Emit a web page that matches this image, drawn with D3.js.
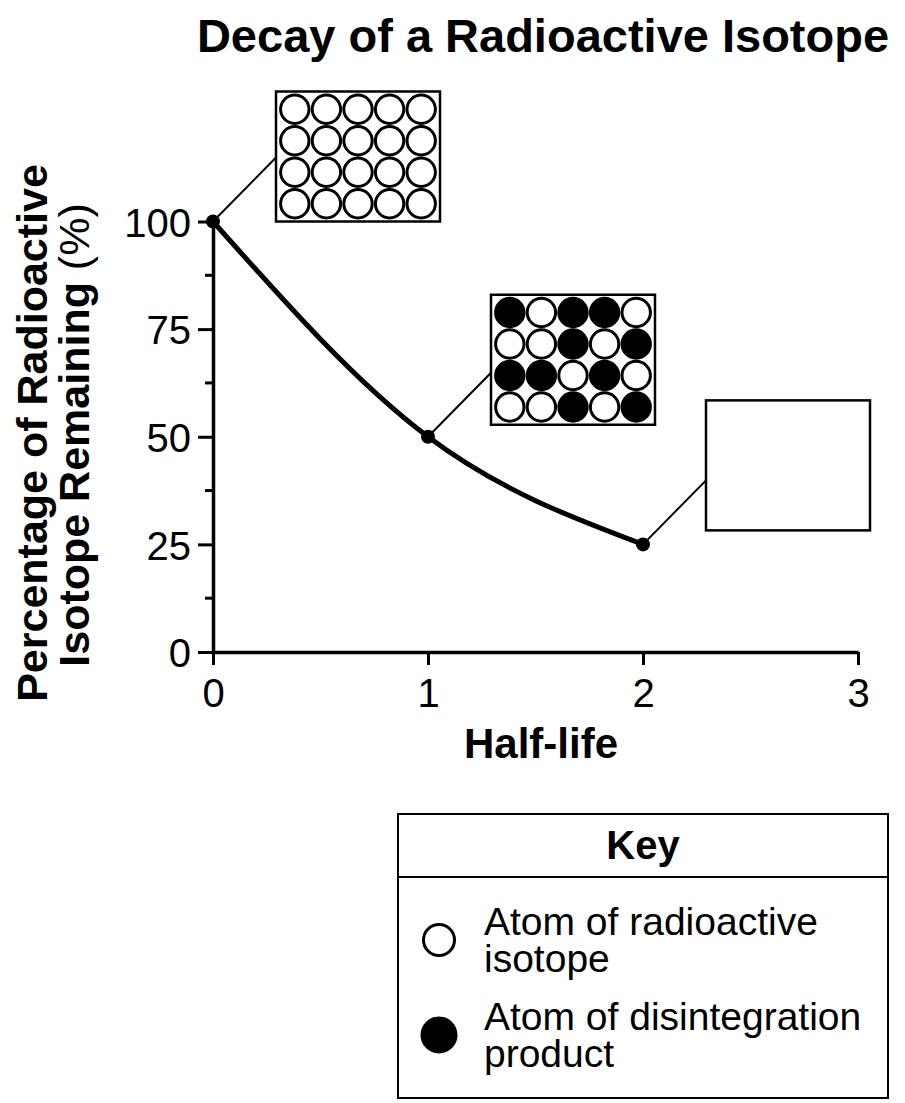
<!DOCTYPE html>
<html>
<head>
<meta charset="utf-8">
<script src="https://cdn.jsdelivr.net/npm/d3@7"></script>
<style>
  body { margin: 0; background: #fff; }
  svg { display: block; font-family: "Liberation Sans", Arial, Helvetica, sans-serif; }
</style>
</head>
<body>
<script>
// data
var halfLives = [0, 1, 2];
var percentRemaining = [100, 50, 25];
var xTickValues = [0, 1, 2, 3];
var yTickValues = [0, 25, 50, 75, 100];
var yMinorTicks = [12.5, 37.5, 62.5, 87.5];

// atom grids next to each point: O = radioactive atom, X = disintegration product
var atomGrids = [
  ["OOOOO", "OOOOO", "OOOOO", "OOOOO"],
  ["XOXXO", "OOXOX", "XXOXO", "OOXOX"],
  [] // empty box (left blank)
];

var keyLabels = [["Atom of radioactive", "isotope"], ["Atom of disintegration", "product"]];
var keyFills = ["#fff", "#000"];

var width = 905, height = 1103;

var x = d3.scaleLinear().domain([0, 3]).range([213, 858]);
var y = d3.scaleLinear().domain([0, 100]).range([652, 221.5]);

var svg = d3.select("body").append("svg")
  .attr("width", width).attr("height", height);

// title
svg.append("text")
  .attr("x", 543).attr("y", 52)
  .attr("text-anchor", "middle")
  .attr("font-size", 47).attr("font-weight", "bold")
  .text("Decay of a Radioactive Isotope");

// axes
var xAxis = d3.axisBottom(x).tickValues(xTickValues).tickFormat(d3.format("d"))
  .tickSize(13).tickSizeOuter(0).tickPadding(14);
var yAxis = d3.axisLeft(y).tickValues(yTickValues).tickFormat(d3.format("d"))
  .tickSize(15).tickSizeOuter(0).tickPadding(7);

var gx = svg.append("g").attr("transform", "translate(0," + y(0) + ")").call(xAxis);
var gy = svg.append("g").attr("transform", "translate(" + x(0) + ",0)").call(yAxis);

// minor ticks on y
gy.selectAll(".minor").data(yMinorTicks).enter().append("line")
  .attr("class", "minor")
  .attr("x1", -8).attr("x2", 0)
  .attr("y1", function(d) { return y(d); }).attr("y2", function(d) { return y(d); });

[gx, gy].forEach(function(g) {
  g.selectAll("path.domain").attr("stroke", "#000").attr("stroke-width", 3.5);
  g.selectAll("line").attr("stroke", "#000").attr("stroke-width", 3);
  g.selectAll("text").attr("font-size", 40).attr("fill", "#000")
    .attr("font-family", "'Liberation Sans', Arial, Helvetica, sans-serif");
});
gy.selectAll(".tick text").attr("dy", "0.37em");

// axis titles
svg.append("text")
  .attr("x", 541).attr("y", 758)
  .attr("text-anchor", "middle")
  .attr("font-size", 42).attr("font-weight", "bold")
  .text("Half-life");

var ylab = svg.append("g").attr("font-size", 43);
ylab.append("text")
  .attr("transform", "translate(47," + 433 + ") rotate(-90)")
  .attr("text-anchor", "middle").attr("font-weight", "bold")
  .text("Percentage of Radioactive");
var yl2 = ylab.append("text")
  .attr("transform", "translate(89," + 435 + ") rotate(-90)")
  .attr("text-anchor", "middle");
yl2.append("tspan").attr("font-weight", "bold").text("Isotope Remaining ");
yl2.append("tspan").text("(%)");

// annotation boxes: leader goes up-right at 45 degrees to the box's left edge
var pts = halfLives.map(function(h, i) { return { x: x(h), y: y(percentRemaining[i]), grid: atomGrids[i] }; });
var leadDx = 63, leadDy = -64;
var boxTopOffset = [-66, -78, -80];
var boxW = 164, boxH = 130;

var ann = svg.append("g");
ann.selectAll("line").data(pts).enter().append("line")
  .attr("x1", function(d) { return d.x; }).attr("y1", function(d) { return d.y; })
  .attr("x2", function(d) { return d.x + leadDx; }).attr("y2", function(d) { return d.y + leadDy; })
  .attr("stroke", "#000").attr("stroke-width", 2);

// decay curve
var line = d3.line()
  .x(function(d, i) { return x(halfLives[i]); })
  .y(function(d) { return y(d); })
  .curve(d3.curveMonotoneX);

svg.append("path")
  .attr("d", line(percentRemaining))
  .attr("fill", "none").attr("stroke", "#000").attr("stroke-width", 5);

svg.selectAll(".dot").data(percentRemaining).enter().append("circle")
  .attr("class", "dot")
  .attr("cx", function(d, i) { return x(halfLives[i]); })
  .attr("cy", function(d) { return y(d); })
  .attr("r", 7).attr("fill", "#000");

var boxes = ann.selectAll("g.box").data(pts).enter().append("g")
  .attr("class", "box")
  .attr("transform", function(d, i) {
    return "translate(" + (d.x + leadDx) + "," + (d.y + leadDy + boxTopOffset[i]) + ")";
  });

boxes.append("rect")
  .attr("width", boxW).attr("height", boxH)
  .attr("fill", "#fff").attr("stroke", "#000").attr("stroke-width", 2.5);

var sx = 31.6, sy = 31.5;
boxes.each(function(d) {
  var cells = [];
  d.grid.forEach(function(row, r) {
    row.split("").forEach(function(c, k) { cells.push({ r: r, c: k, t: c }); });
  });
  d3.select(this).selectAll("circle").data(cells).enter().append("circle")
    .attr("cx", function(e) { return (boxW - 5 * sx) / 2 + (e.c + 0.5) * sx; })
    .attr("cy", function(e) { return (boxH - 4 * sy) / 2 + (e.r + 0.5) * sy; })
    .attr("r", 14.2)
    .attr("fill", function(e) { return e.t === "X" ? "#000" : "#fff"; })
    .attr("stroke", "#000").attr("stroke-width", 3);
});

// key
var key = svg.append("g").attr("transform", "translate(398,814)");
key.append("rect").attr("width", 490).attr("height", 284)
  .attr("fill", "none").attr("stroke", "#000").attr("stroke-width", 2);
key.append("line").attr("x1", 0).attr("x2", 490).attr("y1", 63).attr("y2", 63)
  .attr("stroke", "#000").attr("stroke-width", 2);
key.append("text").attr("x", 245).attr("y", 45)
  .attr("text-anchor", "middle").attr("font-size", 40).attr("font-weight", "bold")
  .text("Key");

var items = key.selectAll("g.item").data(keyLabels).enter().append("g")
  .attr("class", "item")
  .attr("transform", function(d, i) { return "translate(0," + (126 + i * 95) + ")"; });
items.append("circle")
  .attr("cx", 41).attr("cy", 0)
  .attr("r", function(d, i) { return i === 0 ? 15.5 : 17; })
  .attr("fill", function(d, i) { return keyFills[i]; })
  .attr("stroke", "#000").attr("stroke-width", 3);
// both lines of a label in one text element
var itemText = items.append("text").attr("y", -5).attr("font-size", 39);
itemText.selectAll("tspan").data(function(d) { return d; }).enter().append("tspan")
  .attr("x", 86)
  .attr("dy", function(d, j) { return j === 0 ? 0 : 37; })
  .text(function(d) { return d; });
</script>
</body>
</html>
